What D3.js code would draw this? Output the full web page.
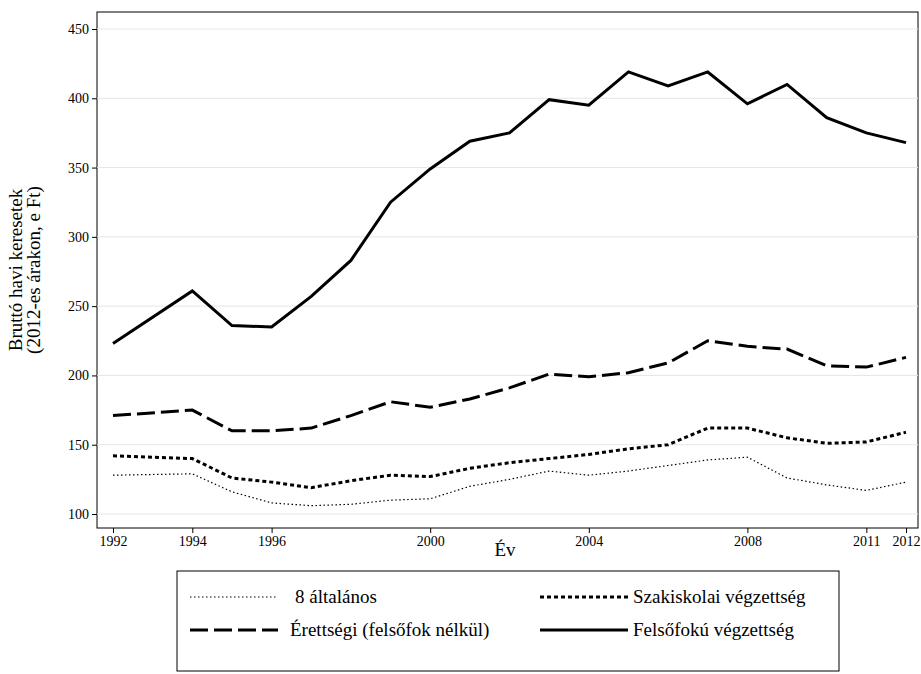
<!DOCTYPE html>
<html><head><meta charset="utf-8">
<script src="https://cdn.jsdelivr.net/npm/d3@7"></script>
<style>body{margin:0;background:#fff}svg{font-family:"Liberation Serif","DejaVu Serif",serif}</style>
</head><body><svg id="c" width="921" height="674"></svg>
<script>
var years = [1992,1994,1995,1996,1997,1998,1999,2000,2001,2002,2003,2004,2005,2006,2007,2008,2009,2010,2011,2012];
var altalanos = [128,129,116,108,106,107,110,111,120,125,131,128,131,135,139,141,126,121,117,123];
var szakiskolai = [142,140,126,123,119,124,128,127,133,137,140,143,147,150,162,162,155,151,152,159];
var erettsegi = [171,175,160,160,162,171,181,177,183,191,201,199,202,209,225,221,219,207,206,213];
var felsofoku = [223,261,236,235,257,283,325,349,369,375,399,395,419,409,419,396,410,386,375,368];
var xTicks = [1992,1994,1996,2000,2004,2008,2011,2012];
var yTicks = [100,150,200,250,300,350,400,450];

var series = [
    {name: "8 általános", values: altalanos, dash: "1.5,2.5", w: 1.2},
    {name: "Szakiskolai végzettség", values: szakiskolai, dash: "4,3", w: 3},
    {name: "Érettségi (felsőfok nélkül)", values: erettsegi, dash: "18,6", w: 3},
    {name: "Felsőfokú végzettség", values: felsofoku, dash: null, w: 3}
];

var svg = d3.select("#c");
var x = d3.scaleLinear().domain([1992, 2012]).range([113, 906]);
var y = d3.scaleLinear().domain([100, 450]).range([514, 29]);

svg.append("rect").attr("x", 97).attr("y", 12).attr("width", 821).attr("height", 516)
    .attr("fill", "none").attr("stroke", "#000").attr("stroke-width", 1);

svg.append("g").selectAll("line").data(yTicks).enter().append("line")
    .attr("x1", 97).attr("x2", 918)
    .attr("y1", function(d) { return y(d); }).attr("y2", function(d) { return y(d); })
    .attr("stroke", "#e6e6e6");

var ax = svg.append("g").attr("transform", "translate(0,528)")
    .call(d3.axisBottom(x).tickValues(xTicks).tickFormat(d3.format("d")).tickSize(5).tickSizeOuter(0));
ax.select(".domain").remove();
ax.selectAll("text").attr("font-size", 14).attr("font-family", "Liberation Serif").attr("fill", "#000");

var ay = svg.append("g").attr("transform", "translate(97,0)")
    .call(d3.axisLeft(y).tickValues(yTicks).tickSize(5).tickSizeOuter(0));
ay.select(".domain").remove();
ay.selectAll("text").attr("font-size", 14).attr("font-family", "Liberation Serif").attr("fill", "#000");

var line = d3.line().x(function(d) { return x(d[0]); }).y(function(d) { return y(d[1]); });
series.forEach(function(s) {
    svg.append("path").datum(years.map(function(yr, i) { return [yr, s.values[i]]; }))
        .attr("d", line).attr("fill", "none").attr("stroke", "#000")
        .attr("stroke-width", s.w).attr("stroke-dasharray", s.dash);
});

svg.append("text").attr("x", 505).attr("y", 556).attr("text-anchor", "middle")
    .attr("font-size", 19).text("Év");
var yl = svg.append("text").attr("transform", "translate(22,270) rotate(-90)")
    .attr("text-anchor", "middle").attr("font-size", 19);
yl.append("tspan").attr("x", 0).attr("dy", 0).text("Bruttó havi keresetek");
yl.append("tspan").attr("x", 0).attr("dy", 18).text("(2012-es árakon, e Ft)");

// legend
svg.append("rect").attr("x", 177).attr("y", 571).attr("width", 662).attr("height", 100)
    .attr("fill", "none").attr("stroke", "#000");
var pos = [[190, 597, 295], [540, 597, 633], [190, 630, 290], [540, 630, 633]];
pos.forEach(function(p, i) {
    var s = series[i];
    svg.append("line").attr("x1", p[0]).attr("x2", p[0] + 88).attr("y1", p[1]).attr("y2", p[1])
        .attr("stroke", "#000").attr("stroke-width", s.w).attr("stroke-dasharray", s.dash);
    svg.append("text").attr("x", p[2]).attr("y", p[1] + 6)
        .attr("font-size", 19).text(s.name);
});
</script></body></html>
